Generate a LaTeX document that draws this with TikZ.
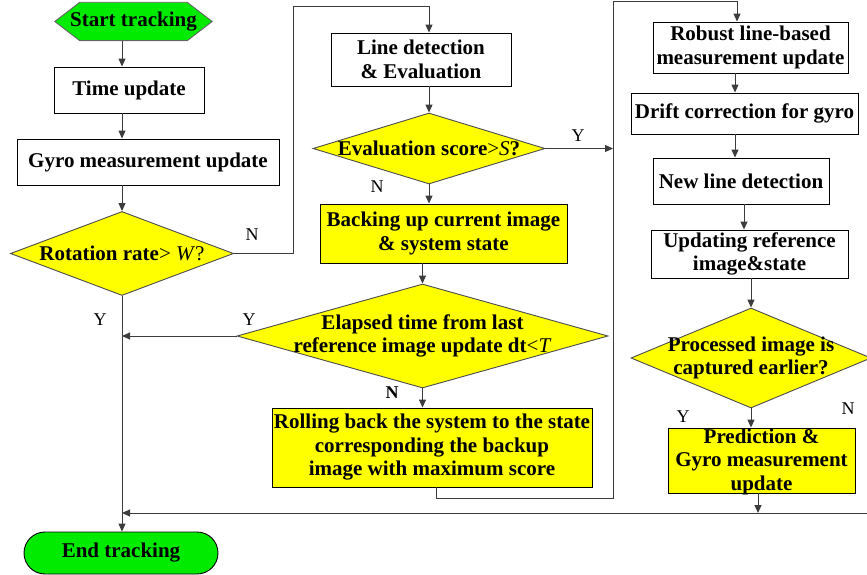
\documentclass[tikz,border=0pt]{standalone}
\usepackage{fontspec}
\setmainfont{Liberation Serif}
\usetikzlibrary{shapes.geometric,arrows.meta,backgrounds}
\definecolor{lime}{RGB}{0,235,0}
\definecolor{yel}{RGB}{255,255,0}
\definecolor{lncol}{RGB}{60,60,60}
\begin{document}
\begin{tikzpicture}[x=1pt,y=1pt,
 font=\fontsize{21}{23.5}\selectfont\bfseries,
 box/.style={draw=black, line width=0.9pt, rectangle, inner sep=0pt, align=center},
 ybox/.style={box, fill=yel},
 dia/.style={draw=black!70, line width=0.9pt, diamond, fill=yel, inner sep=0pt},
 dtext/.style={align=center, inner sep=0pt},
 arr/.style={draw=lncol, line width=1pt, -{Triangle[length=8pt,width=7pt]}},
 lab/.style={font=\fontsize{18}{20}\selectfont\mdseries, inner sep=0pt}
]
\path[use as bounding box] (0,0) rectangle (867,-575);
\clip (0,0) rectangle (867,-575);

% coordinates for connector columns
\coordinate (L) at (122,0);
\coordinate (M) at (429,0);
\coordinate (c1) at (293,-7);
\coordinate (b1) at (613,-498);
\coordinate (t1) at (613,-2);
\coordinate (R1) at (737,0);
\coordinate (R2) at (735,0);
\coordinate (R3) at (744,0);
\coordinate (br) at (875,-513);
\coordinate (rb) at (436,0);
\coordinate (p1) at (758,0);

% left column
\node[minimum width=157, minimum height=38, inner sep=0pt] (start) at (133.5,-21.5) {Start tracking};
\begin{scope}[on background layer]
\draw[fill=lime, draw=black!60, line width=0.9pt] (start.west) -- ([xshift=25]start.north west) -- ([xshift=-25]start.north east) -- (start.east) -- ([xshift=-25]start.south east) -- ([xshift=25]start.south west) -- cycle;
\end{scope}
\node[box, minimum width=150, minimum height=46] (time) at (129,-90) {Time update};
\node[box, minimum width=262, minimum height=46] (gyro) at (148,-162) {Gyro measurement update};
\node[dia, minimum width=223, minimum height=84] (rot) at (122,-253.5) {};
\node[dtext] (rott) at (rot.center) {Rotation rate\mdseries> \textit{W}?};
\node[box, fill=lime, rounded corners=21pt, minimum width=194, minimum height=42] (endn) at (121,-553) {End tracking};

% middle column
\node[box, minimum width=180, minimum height=53] (linedet) at (421,-59.5) {Line detection\\\& Evaluation};
\node[dia, minimum width=232, minimum height=71] (eval) at (429,-148.5) {};
\node[dtext] (evalt) at (eval.center) {Evaluation score{\mdseries>\textit{S}}?};
\node[ybox, minimum width=247, minimum height=59] (backup) at (443.5,-233.5) {Backing up current image\\\& system state};
\node[dia, minimum width=371, minimum height=104] (elapsed) at (422.5,-336) {};
\node[dtext] (elapsedt) at (elapsed.center) {Elapsed time from last\\reference image update dt{\mdseries<\textit{T}}};
\node[ybox, minimum width=320, minimum height=79] (rollback) at (432,-447.5) {};
\node[dtext] (rollbackt) at (rollback.center) {Rolling back the system to the state\\corresponding the backup\\image with maximum score};

% right column
\node[box, minimum width=195, minimum height=51] (robust) at (750.5,-47.5) {Robust line-based\\measurement update};
\node[box, minimum width=227, minimum height=41] (drift) at (744.5,-113.5) {Drift correction for gyro};
\node[box, minimum width=176, minimum height=46] (newline) at (741,-181) {New line detection};
\node[box, minimum width=197, minimum height=48] (updating) at (749.5,-254) {Updating reference\\image\&state};
\node[dia, minimum width=240, minimum height=100] (proc) at (751,-358) {};
\node[dtext] (proct) at (proc.center) {Processed image is\\captured earlier?};
\node[ybox, minimum width=187, minimum height=65] (pred) at (761.5,-460.5) {};
\node[dtext] (predt) at ([yshift=-1]pred.center) {Prediction \&\\Gyro measurement\\update};

% connectors
\draw[arr] (start.south -| L) -- (time.north -| L);
\draw[arr] (time.south -| L) -- (gyro.north -| L);
\draw[arr] (gyro.south -| L) -- (rot.north);
\draw[arr] (rot.east) -| (c1) -| (linedet.north -| M);
\draw[arr] (linedet.south -| M) -- (eval.north);
\draw[arr] (eval.south) -- (backup.north -| eval);
\draw[arr] (backup.south -| elapsed) -- (elapsed.north);
\draw[arr] (elapsed.south) -- (rollback.north -| elapsed);
\draw[arr] (elapsed.west) -- (elapsed.west -| L);
\draw[arr] (rot.south) -- (endn.north -| L);
\draw[arr] (rollback.south -| rb) |- (b1) -- (t1) -| (robust.north -| R1);
\draw[arr] (eval.east) -- (eval.east -| b1);
\draw[arr] (robust.south -| R2) -- (drift.north -| R2);
\draw[arr] (drift.south -| R2) -- (newline.north -| R2);
\draw[arr] (newline.south -| R3) -- (updating.north -| R3);
\draw[arr] (updating.south -| proc) -- (proc.north);
\draw[arr] (proc.south) -- (pred.north -| proc);
\draw[arr] (pred.south -| p1) -- (br -| p1);
\draw[arr] (proc.east) -| (br) -- (br -| L);

% branch labels
\node[lab] (n1) at (252,-235) {N};
\node[lab] (y1) at (578,-136) {Y};
\node[lab] (n2) at (377,-187) {N};
\node[lab] (y2) at (100,-320) {Y};
\node[lab] (y3) at (249,-320) {Y};
\node[lab, font=\fontsize{18}{20}\selectfont\bfseries] (n3) at (392,-393) {N};
\node[lab] (y4) at (683,-417) {Y};
\node[lab] (n4) at (848,-409) {N};
\end{tikzpicture}
\end{document}
